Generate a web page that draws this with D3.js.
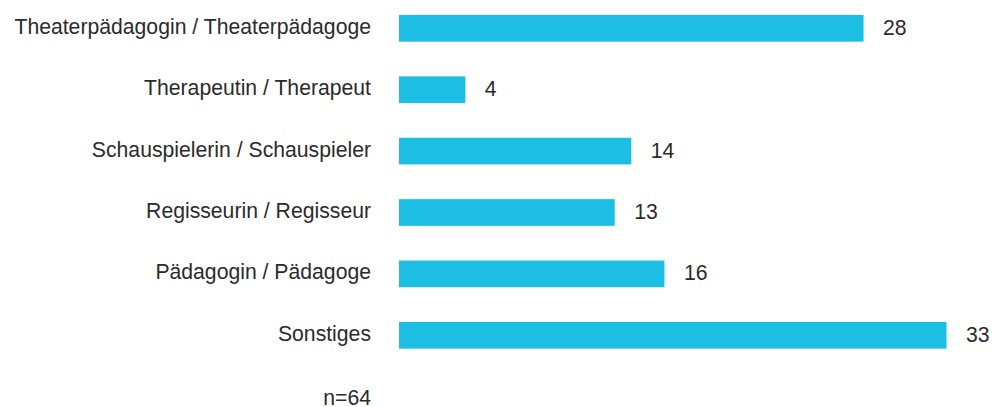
<!DOCTYPE html>
<html><head><meta charset="utf-8">
<script src="https://cdn.jsdelivr.net/npm/d3@7"></script>
<style>html,body{margin:0;padding:0;background:#fff;}svg{display:block;}</style>
</head><body>
<script>
const categories = ["Theaterpädagogin / Theaterpädagoge","Therapeutin / Therapeut","Schauspielerin / Schauspieler","Regisseurin / Regisseur","Pädagogin / Pädagoge","Sonstiges"];
const values = [28,4,14,13,16,33];
const note = "n=64";

const W = 996, H = 407;
const svg = d3.select("body").append("svg").attr("width", W).attr("height", H);
const font = "'Liberation Sans', Arial, sans-serif";
const fs = 21.2, tc = "#2b2b2b";

const x = d3.scaleLinear().domain([0, 33]).range([399, 946.5]);
const y = d3.scaleBand().domain(categories).range([-2.4, 366]).paddingInner(0.565).paddingOuter(0.2825);

svg.selectAll("rect.bar").data(categories).join("rect")
  .attr("class","bar")
  .attr("x", x(0))
  .attr("y", d => y(d))
  .attr("width", (d,i) => x(values[i]) - x(0))
  .attr("height", y.bandwidth())
  .attr("fill", "#1cbfe3");

svg.selectAll("text.cat").data(categories).join("text")
  .attr("class","cat")
  .attr("x", 371)
  .attr("y", d => y(d) + y.bandwidth()/2 + 5.5)
  .attr("text-anchor","end")
  .attr("font-family", font).attr("font-size", fs).attr("fill", tc)
  .text(d => d);

svg.selectAll("text.val").data(categories).join("text")
  .attr("class","val")
  .attr("x", (d,i) => x(values[i]) + 19.5)
  .attr("y", d => y(d) + y.bandwidth()/2 + 6.5)
  .attr("font-family", font).attr("font-size", fs).attr("fill", tc)
  .text((d,i) => values[i]);

svg.append("text")
  .attr("x", 371).attr("y", 404.5)
  .attr("text-anchor","end")
  .attr("font-family", font).attr("font-size", fs).attr("fill", tc)
  .text(note);
</script>
</body></html>
